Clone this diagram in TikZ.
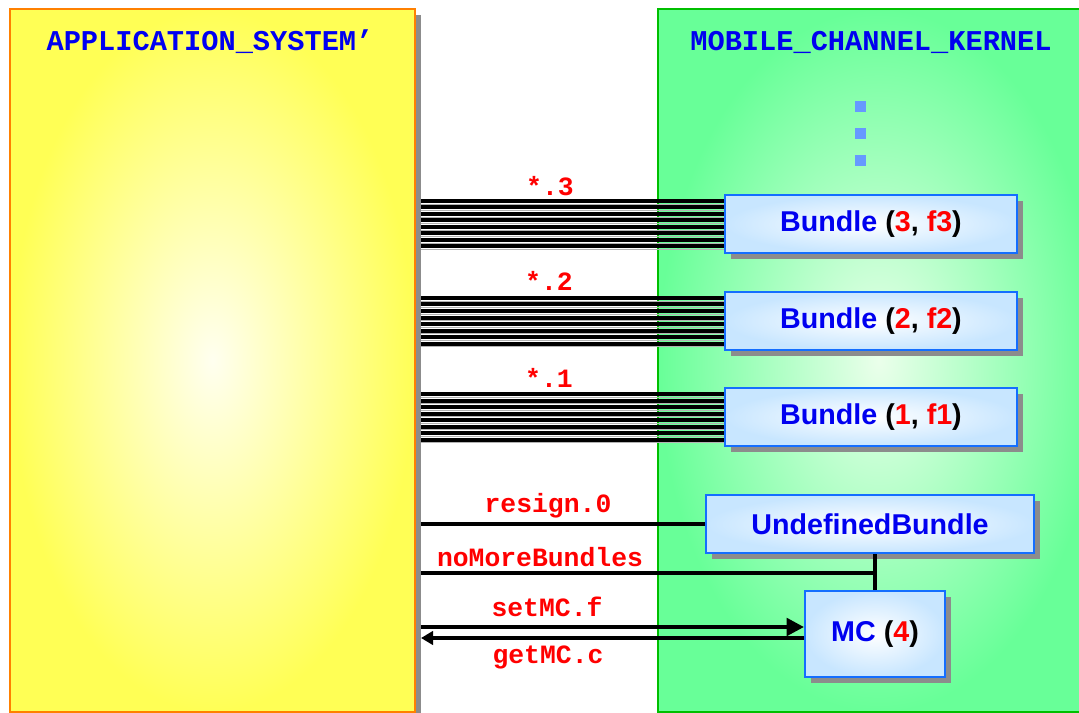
\documentclass[tikz,border=0pt]{standalone}
\usepackage{fontspec}
\setmainfont{Liberation Sans}
\newfontfamily\codefont{Liberation Mono}
\usetikzlibrary{arrows.meta,positioning,calc,shadows}
\definecolor{appyellow}{RGB}{255,255,85}
\definecolor{kerngreen}{RGB}{104,255,152}
\definecolor{boxblue}{RGB}{200,230,255}
\definecolor{edgeblue}{RGB}{20,110,255}
\definecolor{dotblue}{RGB}{102,153,255}
\definecolor{titleblue}{RGB}{0,0,240}
\newcommand{\bundlelabel}[2]{\textcolor{titleblue}{Bundle} (\textcolor{red}{#1}, \textcolor{red}{#2})}

\begin{document}
\begin{tikzpicture}[x=0.75pt,y=-0.75pt,
	sysbox/.style={rectangle,line width=1.5pt,inner sep=0pt,minimum height=527.25pt},
	boxshadow/.style={drop shadow={shadow xshift=4.5pt,shadow yshift=-4.5pt,fill=gray!90,opacity=1}},
	bundlebox/.style={rectangle,draw=edgeblue,line width=1.5pt,inner color=white,outer color=boxblue,minimum height=43.5pt,inner sep=0pt,font=\bfseries\fontsize{21.5}{24}\selectfont,boxshadow},
	title/.style={text=titleblue,font=\codefont\bfseries\fontsize{21.5}{24}\selectfont},
	msg/.style={text=red,font=\codefont\bfseries\fontsize{19.8}{22}\selectfont},
	wire/.style={line width=3pt,draw=black},
	dot/.style={fill=dotblue,minimum size=8.25pt,inner sep=0pt}]
		\useasboundingbox (0,0) rectangle (1079,713);
		\node[sysbox,draw=orange,inner color=yellow!6!white,outer color=appyellow,minimum width=303.75pt,boxshadow] (app) at (212.5,360.5) {};
		\node[sysbox,draw=green!75!black,inner color=green!8!white,outer color=kerngreen,minimum width=331.5pt] (mck) at (879,360.5) {};
		\node[title] (apptitle) at (210,42) {APPLICATION\_SYSTEM’};
		\node[title] (mcktitle) at (871,42) {MOBILE\_CHANNEL\_KERNEL};
		\foreach \y [count=\i] in {107,134,161}
			\node[dot] (dot\i) at (860,\y) {};
		\node[bundlebox,minimum width=219pt] (b3) at (871,224) {\bundlelabel{3}{f3}};
		\node[bundlebox,minimum width=219pt] (b2) at (871,321) {\bundlelabel{2}{f2}};
		\node[bundlebox,minimum width=219pt] (b1) at (871,417) {\bundlelabel{1}{f1}};
		\node[bundlebox,minimum width=246pt] (ub) at (870,524) {\textcolor{titleblue}{UndefinedBundle}};
		\node[bundlebox,minimum width=105pt,minimum height=64.5pt] (mc) at (875,634) {\textcolor{titleblue}{MC} (\textcolor{red}{4})};
		\coordinate (appedge) at ($(app.east)+(5,0)$);
		\foreach \b in {b1,b2,b3}{
			\foreach \o in {-23,-16.5,...,22.5}{
				\coordinate (w) at ($(\b.west)+(0,\o)$);
				\draw[gray!60,line width=0.6pt] ($(appedge |- w)+(0,3)$) -- ($(w)+(0,3)$);
				\draw[wire] (appedge |- w) -- (w);
			}
		}
		\node[msg] (m3) at (550,186) {*.3};
		\node[msg] (m2) at (549,281) {*.2};
		\node[msg] (m1) at (549,378) {*.1};
		\draw[wire] (appedge |- ub.west) -- (ub.west);
		\node[msg] (mres) at (548,506) {resign.0};
		\coordinate (nmb) at ($(mc.north)+(0,-17)$);
		\draw[wire] (appedge |- nmb) -- (nmb);
		\draw[wire] (ub.south -| nmb) -- (mc.north);
		\node[msg] (mnmb) at (540,557) {noMoreBundles};
		\coordinate (set) at ($(mc.west)+(0,-7)$);
		\coordinate (get) at ($(mc.west)+(0,4)$);
		\draw[wire,-{Triangle[length=13pt,width=13pt]}] (appedge |- set) -- (set);
		\draw[wire,-{Triangle[length=9pt,width=10pt]}] (get) -- (appedge |- get);
		\node[msg] (mset) at (547,607) {setMC.f};
		\node[msg] (mget) at (548,657) {getMC.c};
\end{tikzpicture}
\end{document}
